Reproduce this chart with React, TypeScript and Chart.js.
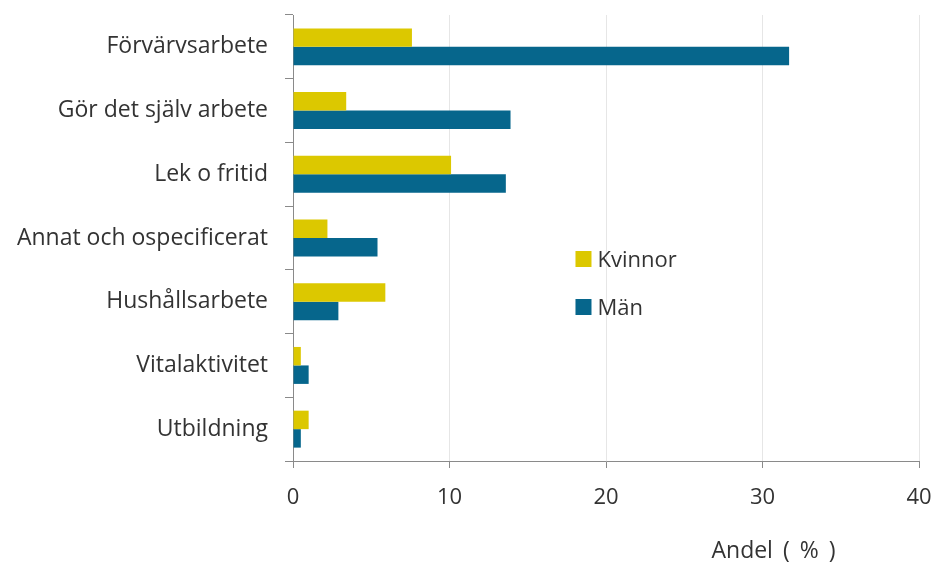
import React, { useEffect, useRef } from "react";
import { Chart, registerables } from "chart.js";

Chart.register(...registerables);

const categories = [
  "Förvärvsarbete",
  "Gör det själv arbete",
  "Lek o fritid",
  "Annat och ospecificerat",
  "Hushållsarbete",
  "Vitalaktivitet",
  "Utbildning",
];
const kvinnor = [7.6, 3.4, 10.1, 2.2, 5.9, 0.5, 1.0];
const man = [31.7, 13.9, 13.6, 5.4, 2.9, 1.0, 0.5];
const seriesNames = ["Kvinnor", "Män"];
const seriesColors = ["#DCC800", "#06668C"];
const xTicks = [0, 10, 20, 30, 40];
const axisTitle = "Andel ( % )";

const FONT = "'Open Sans', sans-serif";
const FONT_SIZE = 22;
const TEXT = "#333333";

// Legend and axis title drawn inside / below the plot area
const overlayPlugin = {
  id: "overlay",
  afterDraw(chart: any) {
    const ctx = chart.ctx;
    const x = chart.scales.x;
    ctx.save();
    ctx.font = `${FONT_SIZE}px ${FONT}`;
    ctx.fillStyle = TEXT;
    ctx.textBaseline = "alphabetic";
    ctx.textAlign = "left";
    const lx = x.getPixelForValue(18.05);
    const rows = [251, 299];
    seriesNames.forEach((name, i) => {
      ctx.fillStyle = seriesColors[i];
      ctx.fillRect(lx, rows[i], 16, 16);
      ctx.fillStyle = TEXT;
      ctx.fillText(name, lx + 22, rows[i] + 16);
    });
    ctx.textAlign = "center";
    ctx.font = `23px ${FONT}`;
    (ctx as any).wordSpacing = "4px";
    ctx.fillText(axisTitle, x.getPixelForValue(30.7), 558);
    ctx.restore();
  },
};

export default function App() {
  const ref = useRef<HTMLCanvasElement>(null);

  useEffect(() => {
    document.body.style.margin = "0";
    const chart = new Chart(ref.current!, {
      type: "bar",
      data: {
        labels: categories,
        datasets: [
          {
            label: seriesNames[0],
            data: kvinnor,
            backgroundColor: seriesColors[0],
            categoryPercentage: 0.58,
            barPercentage: 1.0,
          },
          {
            label: seriesNames[1],
            data: man,
            backgroundColor: seriesColors[1],
            categoryPercentage: 0.58,
            barPercentage: 1.0,
          },
        ],
      },
      options: {
        indexAxis: "y",
        animation: false,
        responsive: false,
        maintainAspectRatio: false,
        layout: { padding: { left: 0, right: 17, top: 15, bottom: 0 } },
        plugins: {
          legend: { display: false },
          tooltip: { enabled: false },
        },
        scales: {
          x: {
            min: 0,
            max: 40,
            afterBuildTicks(scale: any) {
              scale.ticks = xTicks.map((v) => ({ value: v }));
            },
            afterFit(scale: any) {
              scale.height = 101;
              scale.paddingLeft = 0;
              scale.paddingRight = 0;
            },
            border: { display: true, color: "#8a8a8a", width: 1 },
            grid: {
              color: (c: any) => (c.tick && c.tick.value === 0 ? "rgba(0,0,0,0)" : "#e6e6e6"),
              tickColor: "#8a8a8a",
              tickLength: 7,
              drawTicks: true,
            },
            ticks: {
              color: TEXT,
              font: { family: FONT, size: FONT_SIZE },
              padding: 17,
              maxRotation: 0,
            },
          },
          y: {
            afterFit(scale: any) {
              scale.width = 293;
              scale.paddingTop = 0;
              scale.paddingBottom = 0;
            },
            border: { display: true, color: "#8a8a8a", width: 1 },
            grid: {
              offset: true,
              drawOnChartArea: false,
              drawTicks: true,
              tickLength: 8,
              color: "#8a8a8a",
            },
            ticks: {
              color: TEXT,
              font: { family: FONT, size: 23 },
              padding: 17,
            },
          },
        },
      },
      plugins: [overlayPlugin],
    });
    return () => chart.destroy();
  }, []);

  return (
    <div style={{ width: 936, height: 562, background: "#fff" }}>
      <canvas ref={ref} width={936} height={562} />
    </div>
  );
}
